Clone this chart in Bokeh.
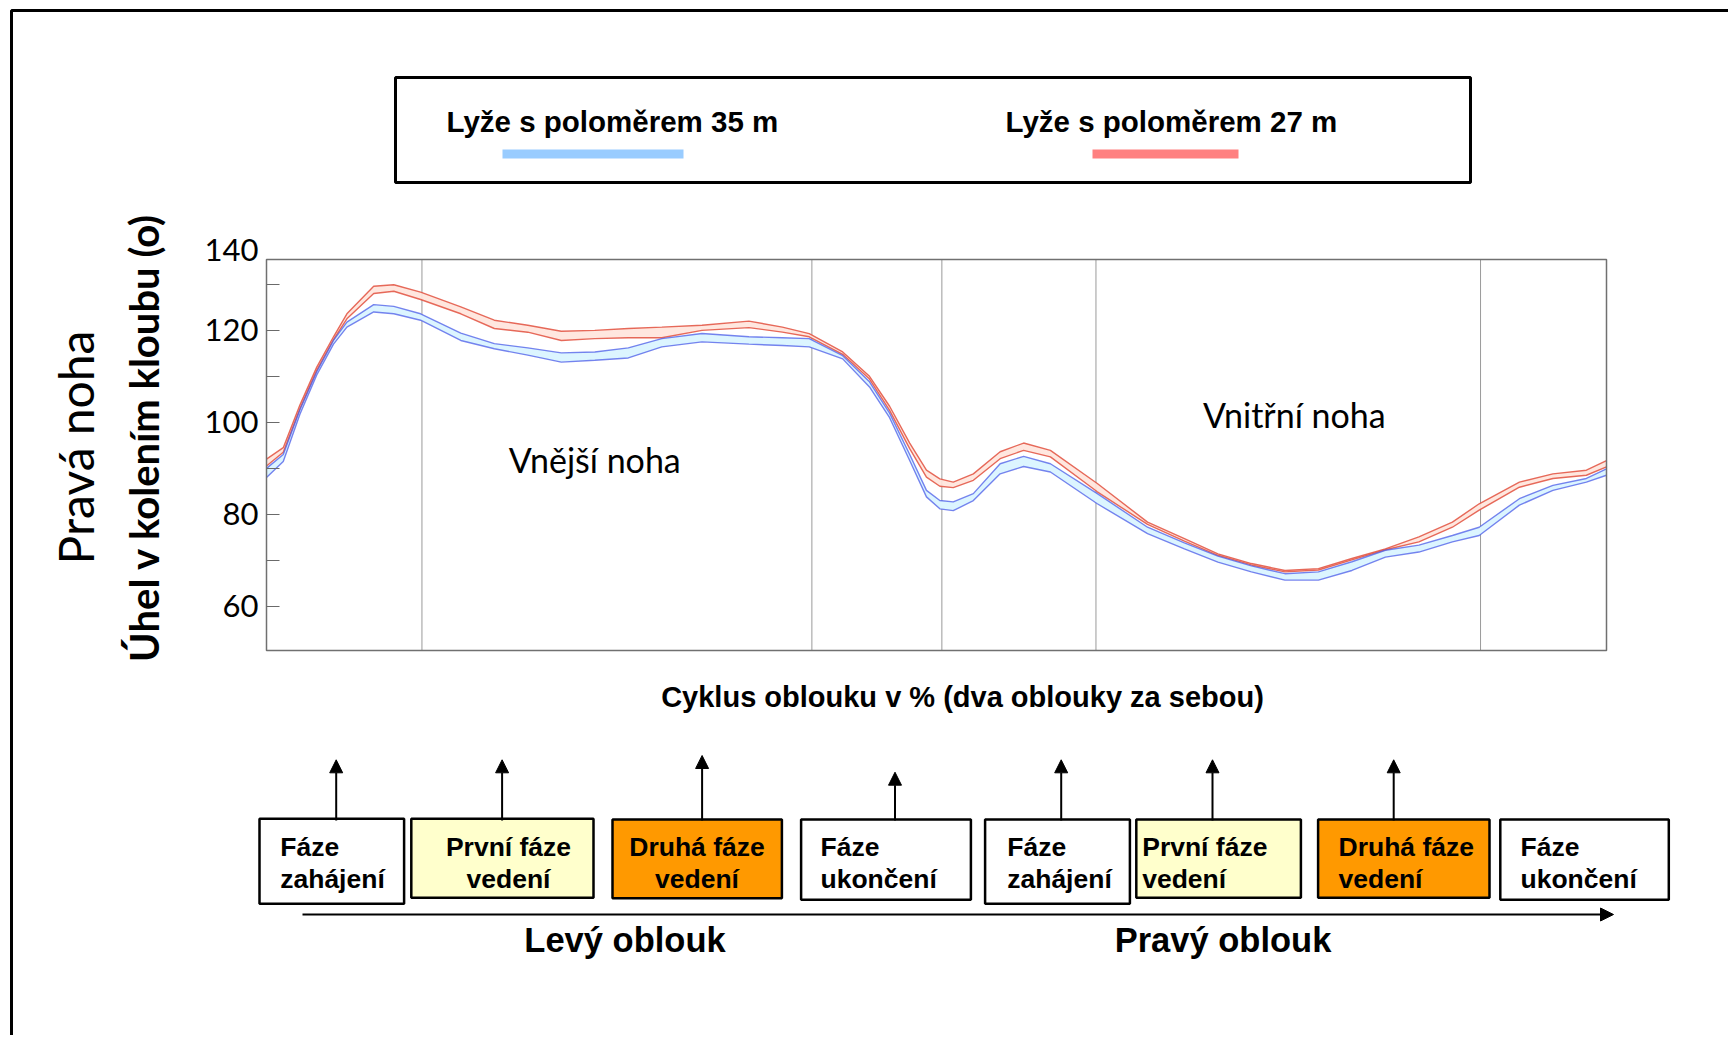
from bokeh.plotting import figure
from bokeh.models import (Range1d, FixedTicker, Label, LinearAxis, Arrow, NormalHead,
                          ColumnDataSource)
from bokeh.embed import file_html
from bokeh.resources import INLINE
import math

# ---------------- data ----------------
x_pct = [0, 2.5, 5, 7.5, 10, 12, 16, 19, 23, 29, 34, 39, 44, 49, 54, 59, 65, 72, 77, 81,
         86, 90, 93, 96, 98.5, 100.5, 102.5, 105.5, 109.5, 113, 117, 124, 131.5, 137, 142,
         147, 152, 157, 162, 167, 172, 177, 181, 187, 192, 197, 200]
red_upper = [92, 94.5, 103.8, 112, 118.6, 123.6, 129.6, 129.9, 128.3, 125.1, 122.2, 121.1,
             119.8, 120, 120.4, 120.7, 121.1, 122, 120.7, 119.3, 115.3, 110, 103.5, 95.5,
             89.6, 87.7, 87, 88.8, 93.6, 95.5, 93.9, 86.7, 78.3, 74.7, 71.4, 69.3, 67.8,
             68.2, 70.4, 72.5, 75.1, 78.3, 82.3, 87, 88.8, 89.6, 91.7]
red_lower = [90.5, 93.5, 103, 111.3, 118, 122.5, 128, 128.5, 126.7, 123.6, 120.4, 119.6,
             117.8, 118.2, 118.4, 118.4, 120, 120.6, 119.6, 118.6, 114.8, 109.4, 102.6, 94.3,
             88.1, 86.1, 85.8, 87.4, 92.1, 93.9, 92.5, 84.9, 77.8, 74.2, 71.1, 69.0, 67.5,
             67.9, 70.1, 72.3, 74, 77.2, 80.9, 85.9, 87.8, 88.5, 90.3]
blue_upper = [90, 93, 102.8, 111, 117.8, 121.8, 125.6, 125.2, 123.6, 119.4, 117.1, 116.2,
              115.1, 115.3, 116.2, 118.2, 119.3, 118.6, 118.4, 118.2, 114.5, 108.8, 102, 93,
              85.2, 83, 82.7, 84.5, 91, 92.6, 91, 84.5, 77.2, 73.8, 70.9, 68.8, 67.1,
              67.5, 69.7, 72.2, 73.3, 75.4, 77.2, 83.4, 86.3, 87.8, 89.9]
blue_lower = [88, 91.5, 101.8, 110.3, 117, 120.7, 124, 123.6, 122.2, 117.8, 116, 114.6,
              113.1, 113.5, 114, 116.4, 117.5, 117, 116.7, 116.4, 113.8, 107.7, 101, 91.7,
              83.8, 81.2, 80.8, 83, 88.8, 90.4, 89.2, 82.3, 75.8, 72.5, 69.6, 67.5, 65.7,
              65.7, 67.8, 70.7, 71.8, 74, 75.4, 82, 85.2, 87, 88.5]

y_ticks = [60, 70, 80, 90, 100, 110, 120, 130]
y_labels = {60: "60", 70: "", 80: "80", 90: "", 100: "100", 110: "", 120: "120", 130: ""}
phase_bounds = [23.2, 81.4, 100.8, 123.8, 181.2]

series_names = ["Lyže s poloměrem 35 m", "Lyže s poloměrem 27 m"]
phase_lines = [("Fáze", "zahájení"), ("První fáze", "vedení"), ("Druhá fáze", "vedení"),
               ("Fáze", "ukončení"), ("Fáze", "zahájení"), ("První fáze", "vedení"),
               ("Druhá fáze", "vedení"), ("Fáze", "ukončení")]
turn_names = ["Levý oblouk", "Pravý oblouk"]
x_title = "Cyklus oblouku v % (dva oblouky za sebou)"
y_title = "Úhel v kolením kloubu (o)"
y_title2 = "Pravá noha"
leg_texts = [("Vnější noha", 49, 92), ("Vnitřní noha", 153.4, 101.7)]

# ---------------- layout (canvas pixels) ----------------
W, H = 1728, 1035
FL, FR, FT, FB = 266, 1606, 259, 650        # chart box on the canvas
X0, X1 = 0, 200                             # cycle %
Y0, Y1 = 50.4, 135.4                        # knee angle

sx = (FR - FL) / (X1 - X0)
sy = (FB - FT) / (Y1 - Y0)

BLUE_LINE = "#4a5be8"
RED_LINE = "#e2503e"
BLUE_FILL = "#dcf5ff"
RED_FILL = "#ffe4dc"

# default ranges = canvas pixels (y downwards)
p = figure(width=W, height=H, output_backend="svg", toolbar_location=None,
           x_range=Range1d(0, W), y_range=Range1d(H, 0),
           x_axis_location=None, y_axis_location=None,
           min_border=0, min_border_left=0, min_border_right=0,
           min_border_top=0, min_border_bottom=0)
p.extra_x_ranges = {"pct": Range1d(X0 - FL / sx, X1 + (W - FR) / sx)}
p.extra_y_ranges = {"deg": Range1d(Y0 - (H - FB) / sy, Y1 + FT / sy)}
p.xgrid.visible = False
p.ygrid.visible = False
p.outline_line_color = None
p.background_fill_color = "white"
p.border_fill_color = "white"

D = dict(x_range_name="pct", y_range_name="deg")

ax = LinearAxis(y_range_name="deg", fixed_location=FL)
ax.ticker = FixedTicker(ticks=y_ticks)
ax.major_label_overrides = y_labels
ax.minor_tick_line_color = None
ax.major_tick_in = 13
ax.major_tick_out = 0
ax.axis_line_color = None
ax.major_tick_line_color = "#6a6a6a"
ax.major_tick_line_width = 1.2
ax.major_label_text_font = "Lato"
ax.major_label_text_font_size = "31px"
ax.major_label_text_color = "black"
ax.major_label_standoff = 8
p.add_layout(ax, "left")

src = ColumnDataSource(dict(x=x_pct, ru=red_upper, rl=red_lower, bu=blue_upper, bl=blue_lower))

# phase boundaries
p.segment(x0=phase_bounds, y0=[Y0] * len(phase_bounds), x1=phase_bounds,
          y1=[Y1] * len(phase_bounds), line_color="#9a9a9a", line_width=1, **D)

p.varea(x="x", y1="bl", y2="bu", source=src, fill_color=BLUE_FILL, fill_alpha=1, **D)
p.varea(x="x", y1="rl", y2="ru", source=src, fill_color=RED_FILL, fill_alpha=0.9, **D)
for col in ["ru", "rl"]:
    p.line(x="x", y=col, source=src, line_color=RED_LINE, line_width=1.4, line_alpha=0.85, **D)
for col in ["bu", "bl"]:
    p.line(x="x", y=col, source=src, line_color=BLUE_LINE, line_width=1.4, line_alpha=0.75, **D)

p.quad(left=[X0], right=[X1], bottom=[Y0], top=[Y1], fill_color=None,
       line_color="#707070", line_width=1.5, **D)

for txt, lx, ly in leg_texts:
    p.add_layout(Label(x=lx, y=ly, text=txt, text_align="center", text_baseline="middle",
                       text_font="Lato", text_font_size="34px", text_color="black", **D))

# "140" label at top of axis
p.add_layout(Label(x=FL - 8, y=249, text="140", text_align="right", text_baseline="middle",
                   text_font="Lato", text_font_size="31px", text_color="black"))

# y titles
p.add_layout(Label(x=75, y=447, text=y_title2, angle=math.pi / 2, text_align="center",
                   text_baseline="middle", text_font="Lato", text_font_size="48px",
                   text_color="black"))
p.add_layout(Label(x=143, y=437, text=y_title, angle=math.pi / 2, text_align="center",
                   text_baseline="middle", text_font="Lato", text_font_style="bold",
                   text_font_size="40px", text_color="black"))

# x title
p.add_layout(Label(x=962, y=696, text=x_title, text_align="center", text_baseline="middle",
                   text_font="Liberation Sans", text_font_style="bold", text_font_size="29px",
                   text_color="black"))

# legend box
p.quad(left=[395], right=[1470], top=[77], bottom=[182], fill_color="white",
       line_color="black", line_width=3)
leg_x = [446, 1005]
leg_bar = [(502, 683, "#99ccff"), (1092, 1238, "#ff8080")]
for name, lx, (b0, b1, c) in zip(series_names, leg_x, leg_bar):
    p.add_layout(Label(x=lx, y=121, text=name, text_align="left", text_baseline="middle",
                       text_font="Liberation Sans", text_font_style="bold",
                       text_font_size="29.5px", text_color="black"))
    p.quad(left=[b0], right=[b1], top=[149], bottom=[158], fill_color=c, line_color=None)

# phase boxes
boxes = [(259, 403.6, 818.3, 903.3, "white", "left", 279.7),
         (410.8, 593, 818.3, 897.3, "#ffffcc", "center", 508),
         (612, 781.4, 819, 897.7, "#ff9900", "center", 696.5),
         (800.6, 970.4, 819, 899.3, "white", "left", 820),
         (984.6, 1129.4, 819, 903.3, "white", "left", 1006.7),
         (1135.8, 1300.4, 819, 897.3, "#ffffcc", "left", 1141.7),
         (1317.6, 1489, 819, 897.3, "#ff9900", "left", 1338),
         (1499.8, 1668.3, 819, 899.3, "white", "left", 1520)]
arrows = [(335.7, 759.3), (501.6, 759.3), (701.6, 755), (894.5, 771.7),
          (1060.7, 759.3), (1212, 759.3), (1393.2, 759.3)]
for (l, r, t, b, c, al, tx), (l1, l2) in zip(boxes, phase_lines):
    p.quad(left=[l], right=[r], top=[t], bottom=[b], fill_color=c, line_color="black",
           line_width=2.5)
    for ty, tt in [(846, l1), (878, l2)]:
        p.add_layout(Label(x=tx, y=ty, text=tt, text_align=al, text_baseline="middle",
                           text_font="Liberation Sans", text_font_style="bold",
                           text_font_size="26.5px", text_color="black"))
for a_x, tip in arrows:
    p.add_layout(Arrow(end=NormalHead(size=13, fill_color="black", line_color="black"),
                       x_start=a_x, y_start=820, x_end=a_x, y_end=tip,
                       line_color="black", line_width=2))

# horizontal arrow
p.add_layout(Arrow(end=NormalHead(size=13, fill_color="black", line_color="black"),
                   x_start=302, y_start=914, x_end=1613, y_end=914,
                   line_color="black", line_width=2.2))
for name, cx in zip(turn_names, [624.5, 1222.5]):
    p.add_layout(Label(x=cx, y=939, text=name, text_align="center", text_baseline="middle",
                       text_font="Liberation Sans", text_font_style="bold",
                       text_font_size="34.5px", text_color="black"))

# outer frame (left and top edges visible)
p.line(x=[11, 11, W + 20], y=[H + 20, 10, 10], line_color="black", line_width=3)

open("out.html", "w").write(file_html(p, INLINE))
